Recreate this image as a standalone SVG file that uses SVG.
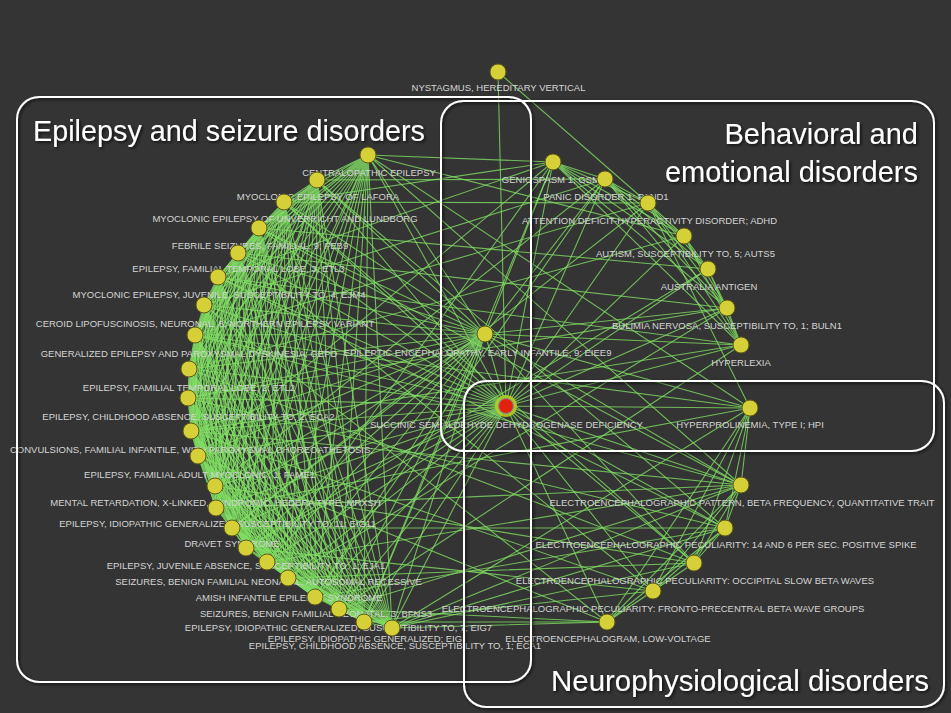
<svg xmlns="http://www.w3.org/2000/svg" width="951" height="713" viewBox="0 0 951 713">
<defs>
<filter id="sh" x="-5%" y="-5%" width="110%" height="115%"><feDropShadow dx="1.5" dy="1.5" stdDeviation="1.5" flood-color="#000" flood-opacity=".75"/></filter>
<style>
.e{fill:none;stroke:#82e064;stroke-width:1.1;stroke-opacity:.78;stroke-linejoin:round}
.n{fill:#d5cf38;stroke:#5e5a18;stroke-width:1}
.l{font-family:"Liberation Sans",Arial,sans-serif;font-size:9.5px;fill:#d4d4d4;text-anchor:middle}
.box{fill:none;stroke:#fff;stroke-width:2}
.t{font-family:"Liberation Sans",Arial,sans-serif;font-size:29px;fill:#fff}
</style>
</defs>
<rect width="951" height="713" fill="#343434"/>
<g id="connectors">
<path class="e" d="M368 155L317 180 368 155 284 202 368 155 259 228 368 155 238 253 368 155 218 277 368 155 204 305 368 155 195 335 368 155 189 369 368 155 188 398 368 155 191 431 368 155 198 456 368 155 215 486 368 155 216 508 368 155 232 528 368 155 246 548 368 155 267 562 368 155 288 578 368 155 315 597 368 155 339 609 368 155 364 622 368 155 392 628 368 155 553 162 368 155 741 485 368 155 750 408 368 155 684 236"/>
<path class="e" d="M317 180L284 202 317 180 259 228 317 180 238 253 317 180 218 277 317 180 204 305 317 180 195 335 317 180 189 369 317 180 188 398 317 180 191 431 317 180 198 456 317 180 215 486 317 180 216 508 317 180 232 528 317 180 246 548 317 180 267 562 317 180 288 578 317 180 315 597 317 180 339 609 317 180 364 622 317 180 392 628 317 180 605 179 317 180 725 528"/>
<path class="e" d="M284 202L259 228 284 202 238 253 284 202 218 277 284 202 204 305 284 202 195 335 284 202 189 369 284 202 188 398 284 202 191 431 284 202 198 456 284 202 215 486 284 202 216 508 284 202 232 528 284 202 246 548 284 202 267 562 284 202 288 578 284 202 315 597 284 202 339 609 284 202 364 622 284 202 392 628 284 202 553 162 284 202 648 203 284 202 694 563"/>
<path class="e" d="M259 228L238 253 259 228 218 277 259 228 204 305 259 228 195 335 259 228 189 369 259 228 188 398 259 228 191 431 259 228 198 456 259 228 215 486 259 228 216 508 259 228 232 528 259 228 246 548 259 228 267 562 259 228 288 578 259 228 315 597 259 228 339 609 259 228 364 622 259 228 392 628 259 228 708 269 259 228 741 485"/>
<path class="e" d="M238 253L218 277 238 253 204 305 238 253 195 335 238 253 189 369 238 253 188 398 238 253 191 431 238 253 198 456 238 253 215 486 238 253 216 508 238 253 232 528 238 253 246 548 238 253 267 562 238 253 288 578 238 253 315 597 238 253 339 609 238 253 364 622 238 253 392 628 238 253 727 308 238 253 653 591"/>
<path class="e" d="M218 277L204 305 218 277 195 335 218 277 189 369 218 277 188 398 218 277 191 431 218 277 198 456 218 277 215 486 218 277 216 508 218 277 232 528 218 277 246 548 218 277 267 562 218 277 288 578 218 277 315 597 218 277 339 609 218 277 364 622 218 277 392 628 218 277 553 162 218 277 741 345 218 277 725 528"/>
<path class="e" d="M204 305L195 335 204 305 189 369 204 305 188 398 204 305 191 431 204 305 198 456 204 305 215 486 204 305 216 508 204 305 232 528 204 305 246 548 204 305 267 562 204 305 288 578 204 305 315 597 204 305 339 609 204 305 364 622 204 305 392 628 204 305 605 179 204 305 607 622"/>
<path class="e" d="M195 335L189 369 195 335 188 398 195 335 191 431 195 335 198 456 195 335 215 486 195 335 216 508 195 335 232 528 195 335 246 548 195 335 267 562 195 335 288 578 195 335 315 597 195 335 339 609 195 335 364 622 195 335 392 628 195 335 750 408 195 335 741 485 195 335 648 203"/>
<path class="e" d="M189 369L188 398 189 369 191 431 189 369 198 456 189 369 215 486 189 369 216 508 189 369 232 528 189 369 246 548 189 369 267 562 189 369 288 578 189 369 315 597 189 369 339 609 189 369 364 622 189 369 392 628 189 369 684 236 189 369 694 563"/>
<path class="e" d="M188 398L191 431 188 398 198 456 188 398 215 486 188 398 216 508 188 398 232 528 188 398 246 548 188 398 267 562 188 398 288 578 188 398 315 597 188 398 339 609 188 398 364 622 188 398 392 628 188 398 727 308 188 398 725 528"/>
<path class="e" d="M191 431L198 456 191 431 215 486 191 431 216 508 191 431 232 528 191 431 246 548 191 431 267 562 191 431 288 578 191 431 315 597 191 431 339 609 191 431 364 622 191 431 392 628 191 431 741 345 191 431 653 591 191 431 741 485"/>
<path class="e" d="M198 456L215 486 198 456 216 508 198 456 232 528 198 456 246 548 198 456 267 562 198 456 288 578 198 456 315 597 198 456 339 609 198 456 364 622 198 456 392 628 198 456 553 162 198 456 607 622"/>
<path class="e" d="M215 486L216 508 215 486 232 528 215 486 246 548 215 486 267 562 215 486 288 578 215 486 315 597 215 486 339 609 215 486 364 622 215 486 392 628 215 486 605 179 215 486 694 563"/>
<path class="e" d="M216 508L232 528 216 508 246 548 216 508 267 562 216 508 288 578 216 508 315 597 216 508 339 609 216 508 364 622 216 508 392 628 216 508 750 408 216 508 741 485"/>
<path class="e" d="M232 528L246 548 232 528 267 562 232 528 288 578 232 528 315 597 232 528 339 609 232 528 364 622 232 528 392 628 232 528 648 203 232 528 725 528"/>
<path class="e" d="M246 548L267 562 246 548 288 578 246 548 315 597 246 548 339 609 246 548 364 622 246 548 392 628 246 548 708 269 246 548 653 591"/>
<path class="e" d="M267 562L288 578 267 562 315 597 267 562 339 609 267 562 364 622 267 562 392 628 267 562 553 162 267 562 741 485"/>
<path class="e" d="M288 578L315 597 288 578 339 609 288 578 364 622 288 578 392 628 288 578 727 308 288 578 694 563"/>
<path class="e" d="M315 597L339 609 315 597 364 622 315 597 392 628 315 597 605 179 315 597 725 528"/>
<path class="e" d="M339 609L364 622 339 609 392 628 339 609 741 345 339 609 607 622 339 609 741 485"/>
<path class="e" d="M364 622L392 628 364 622 553 162 364 622 653 591 364 622 607 622"/>
<path class="e" d="M392 628L750 408 392 628 741 485 392 628 725 528 392 628 694 563 392 628 607 622"/>
<path class="e" d="M485 334L368 155 485 334 317 180 485 334 284 202 485 334 259 228 485 334 238 253 485 334 218 277 485 334 204 305 485 334 195 335 485 334 189 369 485 334 188 398 485 334 191 431 485 334 198 456 485 334 215 486 485 334 216 508 485 334 232 528 485 334 246 548 485 334 267 562 485 334 288 578 485 334 315 597 485 334 339 609 485 334 364 622 485 334 392 628 485 334 553 162 485 334 605 179 485 334 727 308 485 334 741 345 485 334 750 408 485 334 741 485 485 334 694 563"/>
<path class="e" d="M506 406L368 155 506 406 317 180 506 406 284 202 506 406 259 228 506 406 238 253 506 406 218 277 506 406 204 305 506 406 195 335 506 406 189 369 506 406 188 398 506 406 191 431 506 406 198 456 506 406 215 486 506 406 216 508 506 406 232 528 506 406 246 548 506 406 267 562 506 406 288 578 506 406 315 597 506 406 339 609 506 406 364 622 506 406 392 628 506 406 485 334 506 406 498 72 506 406 553 162 506 406 605 179 506 406 648 203 506 406 684 236 506 406 708 269 506 406 727 308 506 406 741 345 506 406 750 408 506 406 741 485 506 406 725 528 506 406 694 563 506 406 653 591 506 406 607 622"/>
<path class="e" d="M553 162L605 179 553 162 648 203 553 162 684 236 553 162 708 269 553 162 727 308 553 162 741 345"/>
<path class="e" d="M605 179L648 203 605 179 684 236 605 179 708 269 605 179 727 308 605 179 741 345"/>
<path class="e" d="M648 203L684 236 648 203 708 269 648 203 727 308 648 203 741 345 648 203 750 408"/>
<path class="e" d="M684 236L708 269 684 236 727 308 684 236 741 345"/>
<path class="e" d="M708 269L727 308 708 269 741 345M727 308L741 345"/>
<path class="e" d="M750 408L741 485 750 408 725 528 750 408 694 563 750 408 653 591 750 408 607 622"/>
<path class="e" d="M741 485L725 528 741 485 694 563 741 485 653 591 741 485 607 622"/>
<path class="e" d="M725 528L694 563 725 528 653 591 725 528 607 622"/>
<path class="e" d="M694 563L653 591 694 563 607 622M653 591L607 622"/>
<path class="e" d="M498 72L648 203"/>
</g>
<g id="n-centralopathic"><circle class="n" cx="368" cy="155" r="8"/><text class="l" x="369" y="176">CENTRALOPATHIC EPILEPSY</text></g>
<g id="n-lafora"><circle class="n" cx="317" cy="180" r="8"/><text class="l" x="318" y="199.5">MYOCLONIC EPILEPSY OF LAFORA</text></g>
<g id="n-unverricht"><circle class="n" cx="284" cy="202" r="8"/><text class="l" x="285" y="221.5">MYOCLONIC EPILEPSY OF UNVERRICHT AND LUNDBORG</text></g>
<g id="n-feb9"><circle class="n" cx="259" cy="228" r="8"/><text class="l" x="260" y="248.5">FEBRILE SEIZURES, FAMILIAL, 9; FEB9</text></g>
<g id="n-etl3"><circle class="n" cx="238" cy="253" r="8"/><text class="l" x="238.5" y="271.5">EPILEPSY, FAMILIAL TEMPORAL LOBE, 3; ETL3</text></g>
<g id="n-ejm4"><circle class="n" cx="218" cy="277" r="8"/><text class="l" x="219" y="297.5">MYOCLONIC EPILEPSY, JUVENILE, SUSCEPTIBILITY TO, 4; EJM4</text></g>
<g id="n-ceroid"><circle class="n" cx="204" cy="305" r="8"/><text class="l" x="205" y="326.5">CEROID LIPOFUSCINOSIS, NEURONAL, 8; NORTHERN EPILEPSY VARIANT</text></g>
<g id="n-gepd"><circle class="n" cx="195" cy="335" r="8"/><text class="l" x="189" y="356.5">GENERALIZED EPILEPSY AND PAROXYSMAL DYSKINESIA; GEPD</text></g>
<g id="n-etl2"><circle class="n" cx="189" cy="369" r="8"/><text class="l" x="189" y="390.5">EPILEPSY, FAMILIAL TEMPORAL LOBE, 2; ETL2</text></g>
<g id="n-eca2"><circle class="n" cx="188" cy="398" r="8"/><text class="l" x="188.5" y="419.5">EPILEPSY, CHILDHOOD ABSENCE, SUSCEPTIBILITY TO, 2; ECA2</text></g>
<g id="n-convulsions"><circle class="n" cx="191" cy="431" r="8"/><text class="l" x="191.5" y="452.5">CONVULSIONS, FAMILIAL INFANTILE, WITH PAROXYSMAL CHOREOATHETOSIS;</text></g>
<g id="n-fame1"><circle class="n" cx="198" cy="456" r="8"/><text class="l" x="199.5" y="477.5">EPILEPSY, FAMILIAL ADULT MYOCLONIC, 1; FAME1</text></g>
<g id="n-mrxsh"><circle class="n" cx="215" cy="486" r="8"/><text class="l" x="215.5" y="505.5">MENTAL RETARDATION, X-LINKED, SYNDROMIC, HEDERA TYPE; MRXSH</text></g>
<g id="n-eig11"><circle class="n" cx="216" cy="508" r="8"/><text class="l" x="217.5" y="526.5">EPILEPSY, IDIOPATHIC GENERALIZED, SUSCEPTIBILITY TO, 11; EIG11</text></g>
<g id="n-dravet"><circle class="n" cx="232" cy="528" r="8"/><text class="l" x="232" y="546.5">DRAVET SYNDROME</text></g>
<g id="n-eja1"><circle class="n" cx="246" cy="548" r="8"/><text class="l" x="246" y="568.5">EPILEPSY, JUVENILE ABSENCE, SUSCEPTIBILITY TO, 1; EJA1</text></g>
<g id="n-bfns-ar"><circle class="n" cx="267" cy="562" r="8"/><text class="l" x="268.5" y="584.5">SEIZURES, BENIGN FAMILIAL NEONATAL, AUTOSOMAL RECESSIVE</text></g>
<g id="n-amish"><circle class="n" cx="288" cy="578" r="8"/><text class="l" x="289" y="600.5">AMISH INFANTILE EPILEPSY SYNDROME</text></g>
<g id="n-bfns3"><circle class="n" cx="315" cy="597" r="8"/><text class="l" x="316" y="616.5">SEIZURES, BENIGN FAMILIAL NEONATAL, 3; BFNS3</text></g>
<g id="n-eig7"><circle class="n" cx="339" cy="609" r="8"/><text class="l" x="338.5" y="630.5">EPILEPSY, IDIOPATHIC GENERALIZED, SUSCEPTIBILITY TO, 7; EIG7</text></g>
<g id="n-eig"><circle class="n" cx="364" cy="622" r="8"/><text class="l" x="365" y="641.5">EPILEPSY, IDIOPATHIC GENERALIZED; EIG</text></g>
<g id="n-eca1"><circle class="n" cx="392" cy="628" r="8"/><text class="l" x="395" y="649">EPILEPSY, CHILDHOOD ABSENCE, SUSCEPTIBILITY TO, 1; ECA1</text></g>
<g id="n-eiee9"><circle class="n" cx="485" cy="334" r="8"/><text class="l" x="477.5" y="355.5">EPILEPTIC ENCEPHALOPATHY, EARLY INFANTILE, 9; EIEE9</text></g>
<g id="n-nystagmus"><circle class="n" cx="498" cy="72" r="8"/><text class="l" x="498.5" y="91">NYSTAGMUS, HEREDITARY VERTICAL</text></g>
<g id="n-gsm1"><text class="l" x="553.5" y="182.5">GENIOSPASM 1; GSM1</text><circle class="n" cx="553" cy="162" r="8"/></g>
<g id="n-pand1"><circle class="n" cx="605" cy="179" r="8"/><text class="l" x="606" y="200">PANIC DISORDER 1; PAND1</text></g>
<g id="n-adhd"><circle class="n" cx="648" cy="203" r="8"/><text class="l" x="649.5" y="224">ATTENTION DEFICIT-HYPERACTIVITY DISORDER; ADHD</text></g>
<g id="n-auts5"><circle class="n" cx="684" cy="236" r="8"/><text class="l" x="685.5" y="257">AUTISM, SUSCEPTIBILITY TO, 5; AUTS5</text></g>
<g id="n-australia"><circle class="n" cx="708" cy="269" r="8"/><text class="l" x="709" y="290">AUSTRALIA ANTIGEN</text></g>
<g id="n-buln1"><circle class="n" cx="727" cy="308" r="8"/><text class="l" x="727" y="329">BULIMIA NERVOSA, SUSCEPTIBILITY TO, 1; BULN1</text></g>
<g id="n-hyperlexia"><circle class="n" cx="741" cy="345" r="8"/><text class="l" x="741" y="366">HYPERLEXIA</text></g>
<g id="n-hpi"><circle class="n" cx="750" cy="408" r="8"/><text class="l" x="750" y="428">HYPERPROLINEMIA, TYPE I; HPI</text></g>
<g id="n-eeg-beta"><circle class="n" cx="741" cy="485" r="8"/><text class="l" x="742" y="506">ELECTROENCEPHALOGRAPHIC PATTERN, BETA FREQUENCY, QUANTITATIVE TRAIT</text></g>
<g id="n-eeg-spike"><circle class="n" cx="725" cy="528" r="8"/><text class="l" x="726" y="548">ELECTROENCEPHALOGRAPHIC PECULIARITY: 14 AND 6 PER SEC. POSITIVE SPIKE</text></g>
<g id="n-eeg-occipital"><circle class="n" cx="694" cy="563" r="8"/><text class="l" x="695" y="584">ELECTROENCEPHALOGRAPHIC PECULIARITY: OCCIPITAL SLOW BETA WAVES</text></g>
<g id="n-eeg-fronto"><circle class="n" cx="653" cy="591" r="8"/><text class="l" x="653" y="612">ELECTROENCEPHALOGRAPHIC PECULIARITY: FRONTO-PRECENTRAL BETA WAVE GROUPS</text></g>
<g id="n-eeg-low"><circle class="n" cx="607" cy="622" r="8"/><text class="l" x="608" y="642">ELECTROENCEPHALOGRAM, LOW-VOLTAGE</text></g>
<g id="n-ssadh"><circle cx="506" cy="406" r="11" fill="#b9d21c" fill-opacity=".85"/><circle cx="506" cy="406" r="7.5" fill="#e5200c" stroke="#8a8a8a" stroke-width="1.2"/><text class="l" x="506.5" y="427.5">SUCCINIC SEMIALDEHYDE DEHYDROGENASE DEFICIENCY</text></g>
<g id="groups" filter="url(#sh)">
<rect class="box" x="17" y="97" width="514" height="585" rx="22"/>
<rect class="box" x="441" y="101" width="493" height="350" rx="22"/>
<rect class="box" x="464" y="381" width="480" height="326" rx="22"/>
<text class="t" x="33" y="141" textLength="392" lengthAdjust="spacingAndGlyphs">Epilepsy and seizure disorders</text>
<text class="t" x="918" y="144" text-anchor="end">Behavioral and</text>
<text class="t" x="918" y="182" text-anchor="end">emotional disorders</text>
<text class="t" x="551" y="691" textLength="378" lengthAdjust="spacingAndGlyphs">Neurophysiological disorders</text>
</g>
</svg>
